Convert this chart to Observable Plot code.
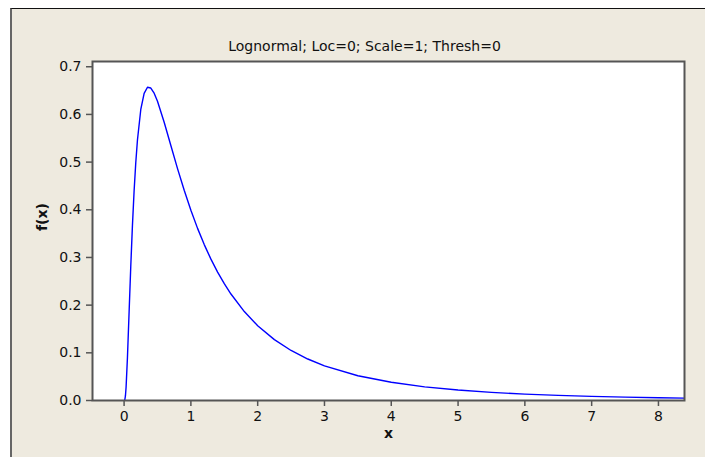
<!DOCTYPE html>
<html>
<head>
<meta charset="utf-8">
<script src="https://cdn.jsdelivr.net/npm/d3@7"></script>
<script src="https://cdn.jsdelivr.net/npm/@observablehq/plot@0.6"></script>
<style>
  body { margin: 0; background: #ffffff; }
  #wrap { position: relative; width: 705px; height: 457px; overflow: hidden; background: #ffffff; }
  #panel { position: absolute; left: 10px; top: 8px; width: 760px; height: 480px; background: #EEEADF; border-left: 2px solid #666666; border-top: 1px solid #111111; }
  #chart { position: absolute; left: 0; top: 0; }
</style>
</head>
<body>
<div id="wrap">
  <div id="panel"></div>
  <div id="chart"></div>
</div>
<script>
const titleText = "Lognormal; Loc=0; Scale=1; Thresh=0";
const xLabel = "x";
const yLabel = "f(x)";
const xTicks = [0, 1, 2, 3, 4, 5, 6, 7, 8];
const yTicks = [0, 0.1, 0.2, 0.3, 0.4, 0.5, 0.6, 0.7];

// curve points (x, f(x))
const xs = [0, 0.01, 0.02, 0.03, 0.05, 0.075, 0.1, 0.125, 0.15, 0.175, 0.2, 0.25, 0.3, 0.35, 0.4, 0.45, 0.5, 0.6, 0.7, 0.8, 0.9, 1.0, 1.1, 1.2, 1.3, 1.4, 1.5, 1.6, 1.8, 2.0, 2.25, 2.5, 2.75, 3.0, 3.5, 4.0, 4.5, 5.0, 5.5, 6.0, 6.5, 7.0, 7.5, 8.0, 8.4];
const fx = [0, 0.001, 0.0095, 0.0284, 0.0898, 0.1857, 0.2816, 0.3673, 0.4398, 0.4991, 0.5463, 0.6104, 0.6442, 0.6570, 0.6554, 0.6445, 0.6275, 0.5836, 0.5348, 0.4864, 0.4408, 0.3989, 0.3610, 0.3270, 0.2965, 0.2693, 0.2450, 0.2233, 0.1865, 0.1569, 0.1276, 0.1049, 0.0870, 0.0727, 0.0520, 0.0382, 0.0286, 0.0219, 0.0170, 0.0134, 0.0107, 0.0086, 0.0070, 0.0057, 0.0049];

const data = xs.map((x, i) => ({x, y: fx[i]}));
const font = "DejaVu Sans, Verdana, sans-serif";

const chart = Plot.plot({
  width: 705,
  height: 457,
  marginLeft: 92,
  marginRight: 21,
  marginTop: 61,
  marginBottom: 57,
  style: { background: "transparent", fontFamily: font, fontSize: "14px", color: "#111" },
  x: { domain: [-0.473, 8.39] },
  y: { domain: [0, 0.711] },
  marks: [
    Plot.frame({ fill: "white", stroke: "none" }),
    Plot.axisX({ ticks: xTicks, tickSize: 6, tickPadding: 5, stroke: "#555", strokeWidth: 1.5, label: null, fontSize: 14 }),
    Plot.axisY({ ticks: yTicks, tickFormat: d3.format(".1f"), tickSize: 6, tickPadding: 5, stroke: "#555", strokeWidth: 1.5, label: null, fontSize: 14 }),
    Plot.line(data, { x: "x", y: "y", stroke: "#0000FF", strokeWidth: 1.4, clip: true }),
    Plot.frame({ stroke: "#555", strokeWidth: 2, fill: "none" }),
    Plot.text([titleText], { frameAnchor: "top", dx: -24, dy: -20, fontSize: 14, fill: "#111" }),
    Plot.text([xLabel], { frameAnchor: "bottom", dy: 37, fontWeight: "bold", fontSize: 14, fill: "#111" }),
    Plot.text([yLabel], { frameAnchor: "left", dx: -50, rotate: -90, fontWeight: "bold", fontSize: 14, fill: "#111" })
  ]
});
document.getElementById("chart").appendChild(chart);
</script>
</body>
</html>
